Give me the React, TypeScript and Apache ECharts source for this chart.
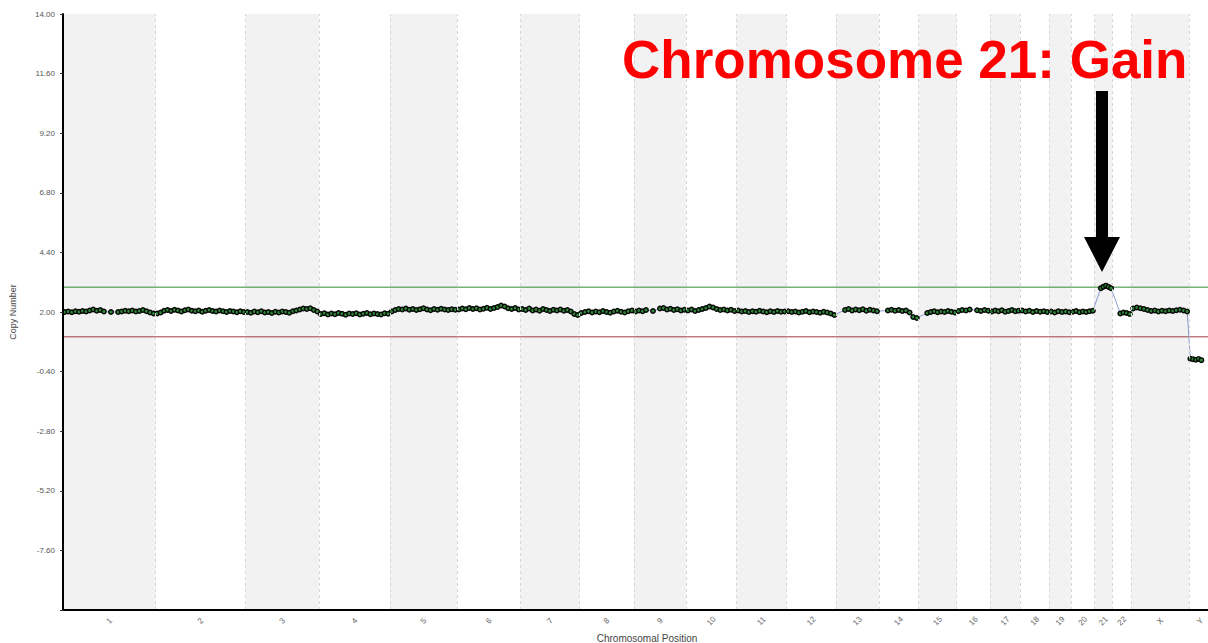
import React, { useEffect, useRef } from 'react';
import * as echarts from 'echarts';

// Chromosome names and lengths (Mb, hg19)
const chromosomeNames = ['1', '2', '3', '4', '5', '6', '7', '8', '9', '10', '11', '12', '13', '14', '15', '16', '17', '18', '19', '20', '21', '22', 'X', 'Y'];
const chromosomeLengthsMb = [249.25, 243.2, 198.02, 191.15, 180.92, 171.12, 159.14, 146.36, 141.21, 135.53, 135.01, 133.85, 115.17, 107.35, 102.53, 90.35, 81.2, 78.08, 59.13, 63.03, 48.13, 51.3, 155.27, 59.37];

// Copy number readings along each chromosome (null = no probes, e.g. centromere / p-arm gaps)
const chr1 = [2.0, 2.02, 1.99, 2.03, 2.01, 2.04, 2.02, 2.06, 2.1, 2.05, 2.08, 2.02, null, 2.0, null, 2.0, 2.02, 2.05, 2.03, 2.06, 2.02, 2.04, 2.08, 2.03, 1.98, 1.94];
const chr2 = [1.94, 1.98, 2.05, 2.08, 2.04, 2.09, 2.06, 2.02, 2.07, 2.1, 2.05, 2.03, 2.06, 2.01, 2.05, 2.08, 2.04, 2.02, 2.06, 2.03, 2.0, 2.04, 2.02, 1.99, 2.03, 2.0];
const chr3 = [2.0, 1.97, 2.02, 1.99, 2.03, 1.98, 2.0, 1.96, 2.01, 1.98, 2.02, 2.0, 1.97, 2.03, 2.06, 2.1, 2.14, 2.12, 2.15, 2.08, 2.02];
const chr4 = [1.92, 1.95, 1.9, 1.94, 1.91, 1.96, 1.93, 1.89, 1.94, 1.92, 1.95, 1.9, 1.93, 1.96, 1.91, 1.94, 1.92, 1.9, 1.95, 1.93];
const chr5 = [2.02, 2.08, 2.12, 2.1, 2.14, 2.09, 2.12, 2.08, 2.11, 2.15, 2.1, 2.07, 2.12, 2.09, 2.13, 2.1, 2.08, 2.11, 2.09];
const chr6 = [2.1, 2.14, 2.11, 2.16, 2.12, 2.15, 2.1, 2.13, 2.17, 2.12, 2.16, 2.2, 2.26, 2.22, 2.15, 2.12, 2.16, 2.1];
const chr7 = [2.12, 2.08, 2.14, 2.06, 2.1, 2.05, 2.12, 2.08, 2.04, 2.09, 2.06, 2.1, 2.05, 2.08, 2.02, 1.92, 1.88];
const chr8 = [1.96, 2.0, 2.03, 1.98, 2.02, 1.99, 2.04, 2.0, 1.97, 2.02, 2.05, 2.01, 1.98, 2.03, 2.06];
const chr9 = [2.02, 2.06, 2.03, 2.08, null, 2.04, null, 2.14, 2.16, 2.1, 2.13, 2.08, 2.11, 2.06, 2.09];
const chr10 = [2.06, 2.1, 2.04, 2.08, 2.12, 2.16, 2.22, 2.18, 2.12, 2.08, 2.1, 2.06, 2.09, 2.04];
const chr11 = [2.06, 2.02, 2.04, 2.0, 2.03, 2.01, 2.05, 2.02, 1.99, 2.03, 2.0, 2.04, 2.01, 2.02];
const chr12 = [2.03, 2.0, 2.02, 1.98, 2.01, 2.04, 1.99, 2.02, 2.0, 1.97, 2.01, 1.98, 1.94, 1.88];
const chr13 = [null, null, 2.08, 2.12, 2.06, 2.1, 2.07, 2.11, 2.05, 2.09, 2.06, 2.03];
const chr14 = [null, null, 2.06, 2.09, 2.05, 2.08, 2.04, 2.06, 1.98, 1.8, 1.76];
const chr15 = [null, null, 1.96, 2.0, 2.03, 1.99, 2.02, 2.0, 2.04, 2.01, 1.98];
const chr16 = [2.04, 2.08, 2.06, 2.1, null, 2.07, 2.04, 2.08, 2.05];
const chr17 = [2.02, 2.06, 2.03, 2.07, 2.01, 2.04, 2.08, 2.03, 2.05];
const chr18 = [2.06, 2.02, 2.05, 2.0, 2.04, 2.01, 2.03, 2.0];
const chr19 = [2.02, 1.98, 2.03, 2.0, 2.02, 1.99];
const chr20 = [2.01, 2.04, 1.99, 2.02, 2.0, 2.03, 2.05];
const chr21 = [null, null, 2.96, 3.02, 3.06, 3.01, 2.96];
const chr22 = [null, null, 1.94, 1.98, 1.96, 1.92];
const chrX = [2.14, 2.18, 2.15, 2.12, 2.08, 2.04, 2.06, 2.02, 2.05, 2.03, 2.06, 2.04, 2.07, 2.09, 2.06, 2.02];
const chrY = [0.12, 0.1, 0.08, 0.11, 0.06, null, null, null];

const copyNumberByChromosome = [chr1, chr2, chr3, chr4, chr5, chr6, chr7, chr8, chr9, chr10, chr11, chr12, chr13, chr14, chr15, chr16, chr17, chr18, chr19, chr20, chr21, chr22, chrX, chrY];

const gainThreshold = 3.0;
const lossThreshold = 1.0;
const yMin = -10;
const yMax = 14;
const yInterval = 2.4;
const titleText = 'Chromosome 21: Gain';

export default function App() {
  const ref = useRef<HTMLDivElement>(null);

  useEffect(() => {
    if (!ref.current) return;
    const chart = echarts.init(ref.current, null, { renderer: 'svg' });

    const starts: number[] = [];
    let acc = 0;
    chromosomeLengthsMb.forEach((l) => {
      starts.push(acc);
      acc += l;
    });
    const total = acc;
    const centers = starts.map((s, i) => s + chromosomeLengthsMb[i] / 2);

    const points: [number, number][] = [];
    copyNumberByChromosome.forEach((vals, c) => {
      const step = chromosomeLengthsMb[c] / vals.length;
      vals.forEach((v, i) => {
        if (v !== null) points.push([starts[c] + (i + 0.5) * step, v as number]);
      });
    });

    const bandAreas = starts
      .map((s, i) => ({ s, e: s + chromosomeLengthsMb[i], i }))
      .filter((b) => b.i % 2 === 0)
      .map((b) => [{ xAxis: b.s }, { xAxis: b.e }]);

    const boundaryLines = starts.slice(1).map((s) => ({ xAxis: s }));

    const labelFor = (v: number) => {
      for (let i = 0; i < centers.length; i++) {
        if (Math.abs(centers[i] - v) < 0.01) return chromosomeNames[i];
      }
      return '';
    };

    chart.setOption({
      animation: false,
      textStyle: { fontFamily: 'Arial, "Liberation Sans", sans-serif' },
      grid: { left: 63, right: 19, top: 14, bottom: 33, containLabel: false, outerBoundsMode: 'none' },
      xAxis: {
        type: 'value',
        min: 0,
        max: total,
        z: 10,
        axisLine: { show: true, onZero: false, lineStyle: { color: '#000', width: 2 } },
        axisTick: { show: false },
        splitLine: { show: false },
        axisLabel: {
          customValues: centers,
          formatter: (v: number) => labelFor(v),
          rotate: 45,
          align: 'center',
          verticalAlign: 'middle',
          fontSize: 8,
          color: '#666',
          margin: 11,
        },
        name: 'Chromosomal Position',
        nameLocation: 'middle',
        nameGap: 22,
        nameTextStyle: { fontSize: 10, color: '#444', padding: [0, 0, 0, 20] },
      },
      yAxis: {
        type: 'value',
        min: yMin,
        max: yMax,
        interval: yInterval,
        z: 10,
        axisLine: { show: true, onZero: false, lineStyle: { color: '#000', width: 2 } },
        axisTick: { show: true, length: 3, lineStyle: { color: '#333' } },
        splitLine: { show: false },
        axisLabel: {
          formatter: (v: number) => (Math.abs(v - yMin) < 1e-6 ? '' : v.toFixed(2)),
          fontSize: 8,
          color: '#555',
          margin: 8,
        },
        name: 'Copy Number',
        nameLocation: 'middle',
        nameGap: 46,
        nameTextStyle: { fontSize: 9, color: '#444' },
      },
      series: [
        {
          type: 'line',
          data: [[0, 2]],
          symbol: 'none',
          lineStyle: { opacity: 0 },
          silent: true,
          z: 1,
          markArea: {
            silent: true,
            itemStyle: { color: '#f2f2f2' },
            data: bandAreas,
          },
          markLine: {
            silent: true,
            symbol: 'none',
            label: { show: false },
            lineStyle: { color: '#d6d6d6', type: [3, 3], width: 1 },
            data: boundaryLines,
          },
        },
        {
          name: 'Gain threshold',
          type: 'line',
          data: [[0, gainThreshold], [total, gainThreshold]],
          symbol: 'none',
          silent: true,
          z: 2,
          color: '#338a33',
          lineStyle: { color: '#338a33', width: 1 },
        },
        {
          name: 'Loss threshold',
          type: 'line',
          data: [[0, lossThreshold], [total, lossThreshold]],
          symbol: 'none',
          silent: true,
          z: 2,
          color: '#9c3a46',
          lineStyle: { color: '#9c3a46', width: 1 },
        },
        {
          type: 'line',
          data: points,
          z: 3,
          symbol: 'circle',
          symbolSize: 4.5,
          showAllSymbol: true,
          itemStyle: { color: '#2f8a38', borderColor: '#050505', borderWidth: 1.4 },
          lineStyle: { color: '#8b9bd0', width: 1 },
        },
      ],
      graphic: [
        {
          type: 'text',
          x: 622,
          y: 59,
          z: 100,
          style: {
            text: titleText,
            fill: '#ff0000',
            fontSize: 53,
            fontWeight: 'bold',
            fontFamily: '"Liberation Sans", Arial, sans-serif',
            verticalAlign: 'middle',
            align: 'left',
          },
        },
        {
          type: 'polygon',
          z: 100,
          shape: {
            points: [
              [1096, 91],
              [1108, 91],
              [1108, 237],
              [1120, 237],
              [1102, 272],
              [1084, 237],
              [1096, 237],
            ],
          },
          style: { fill: '#000' },
        },
      ],
    });

    return () => chart.dispose();
  }, []);

  return (
    <div style={{ position: 'absolute', left: 0, top: 0, width: 1208, height: 643, overflow: 'hidden', background: '#fff' }}>
      <div ref={ref} style={{ width: 1230, height: 643 }} />
    </div>
  );
}
